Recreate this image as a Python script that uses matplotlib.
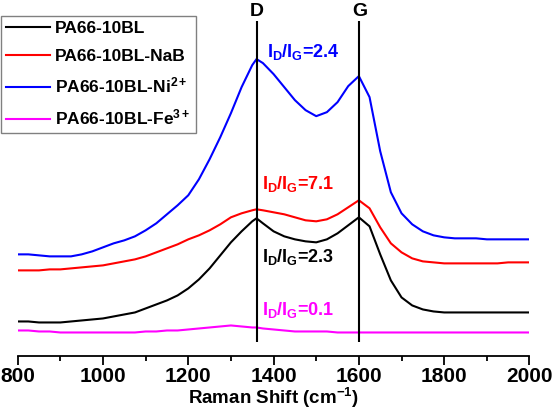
import numpy as np
import matplotlib
matplotlib.use("Agg")
import matplotlib.pyplot as plt
from matplotlib.ticker import MultipleLocator

plt.rcParams['font.family'] = ['Liberation Sans', 'DejaVu Sans']
plt.rcParams['font.weight'] = 'bold'
plt.rcParams['mathtext.fontset'] = 'custom'
plt.rcParams['mathtext.rm'] = 'Liberation Sans:bold'
plt.rcParams['mathtext.it'] = 'Liberation Sans:bold'
plt.rcParams['mathtext.bf'] = 'Liberation Sans:bold'
plt.rcParams['mathtext.default'] = 'regular'

# Raman shift grid (cm-1), intensities in a.u.
shift = [800, 825, 850, 875, 900, 925, 950, 975, 1000, 1025, 1050, 1075, 1100,
         1125, 1150, 1175, 1200, 1225, 1250, 1275, 1300, 1325, 1350, 1360,
         1375, 1400, 1425, 1450, 1475, 1500, 1525, 1550, 1575, 1600,
         1625, 1650, 1675, 1700, 1725, 1750, 1775, 1800,
         1825, 1850, 1875, 1900, 1925, 1950, 1975, 2000]

pa66 = [34, 34, 33, 33, 33, 34, 35, 36, 37, 39, 41, 43, 47,
        51, 55, 60, 67, 76, 87, 100, 113, 124, 134, 137,
        132, 124, 119, 116, 114, 113, 116, 122, 130, 138,
        129, 101, 75, 58, 50, 46, 44, 43,
        43, 43, 43, 43, 43, 43, 43, 43]

pa66_nab = [85, 85, 85, 86, 86, 87, 88, 89, 90, 92, 94, 96, 99,
            103, 107, 111, 116, 120, 125, 131, 138, 142, 145, 146,
            145, 143, 141, 138, 135, 134, 136, 141, 148, 155,
            147, 128, 112, 103, 97, 94, 93, 92,
            92, 92, 92, 92, 92, 93, 93, 93]

pa66_ni = [101, 101, 100, 99, 99, 99, 101, 104, 108, 112, 115, 119, 125,
           132, 141, 150, 160, 176, 196, 218, 242, 268, 290, 296,
           292, 281, 268, 255, 245, 239, 243, 253, 269, 279,
           258, 204, 163, 142, 131, 124, 120, 118,
           117, 117, 117, 116, 116, 116, 116, 116]

pa66_fe = [25, 25, 24, 24, 23, 23, 23, 23, 23, 23, 23, 23, 24,
           24, 25, 25, 26, 27, 28, 29, 30, 29, 28, 28,
           27, 26, 25, 24, 24, 24, 24, 23, 23, 23,
           23, 23, 23, 23, 23, 23, 23, 23,
           23, 23, 23, 23, 23, 23, 23, 23]

labels = ['PA66-10BL', 'PA66-10BL-NaB', 'PA66-10BL-Ni$^{2+}$', 'PA66-10BL-Fe$^{3+}$']
colors = ['black', 'red', 'blue', 'magenta']
ratios = ['2.3', '7.1', '2.4', '0.1']

fig = plt.figure(figsize=(5.56, 4.13), dpi=100)
ax = fig.add_axes([0.0318, 0.1392, 0.9205, 0.8608])

for y, lab, c in zip([pa66, pa66_nab, pa66_ni, pa66_fe], labels, colors):
    ax.plot(shift, y, color=c, lw=1.5, label=lab)

# D and G band markers
ax.vlines([1360, 1600], 13, 334, color='black', lw=1.5)
ax.text(1360, 339, 'D', ha='center', va='baseline', fontsize=14, fontweight='bold')
ax.text(1602, 339, 'G', ha='center', va='baseline', fontsize=14, fontweight='bold')

# ID/IG annotations
ann_pos = [(1373, 93), (1373, 166), (1385, 298), (1373, 40)]
for (x, y), r, c in zip(ann_pos, ratios, colors):
    ax.text(x, y, '$I_D/I_G$=' + r, color=c, fontsize=13, fontweight='bold',
            ha='left', va='baseline')

ax.set_xlim(800, 2000)
ax.set_ylim(0, 355)
ax.xaxis.set_major_locator(MultipleLocator(200))
ax.xaxis.set_minor_locator(MultipleLocator(100))
ax.tick_params(axis='x', which='major', length=6.5, width=1.3, labelsize=15, pad=2)
ax.tick_params(axis='x', which='minor', length=3.5, width=1.3)
ax.set_yticks([])
for s in ['left', 'right', 'top']:
    ax.spines[s].set_visible(False)
ax.spines['bottom'].set_linewidth(1.3)
ax.set_xlabel('Raman Shift (cm$^{-1}$)', fontsize=13.5, fontweight='bold', labelpad=0)
ax.patch.set_visible(False)

leg = ax.legend(loc='upper left', bbox_to_anchor=(1 / 556, 1 - 16 / 413),
                bbox_transform=fig.transFigure, borderaxespad=0, fontsize=12.5,
                handlelength=2.5, handletextpad=0.3, fancybox=False,
                edgecolor='gray', framealpha=1, borderpad=0.3, labelspacing=0.7)
leg.get_frame().set_linewidth(1.0)

fig.savefig('out.png', dpi=100)
